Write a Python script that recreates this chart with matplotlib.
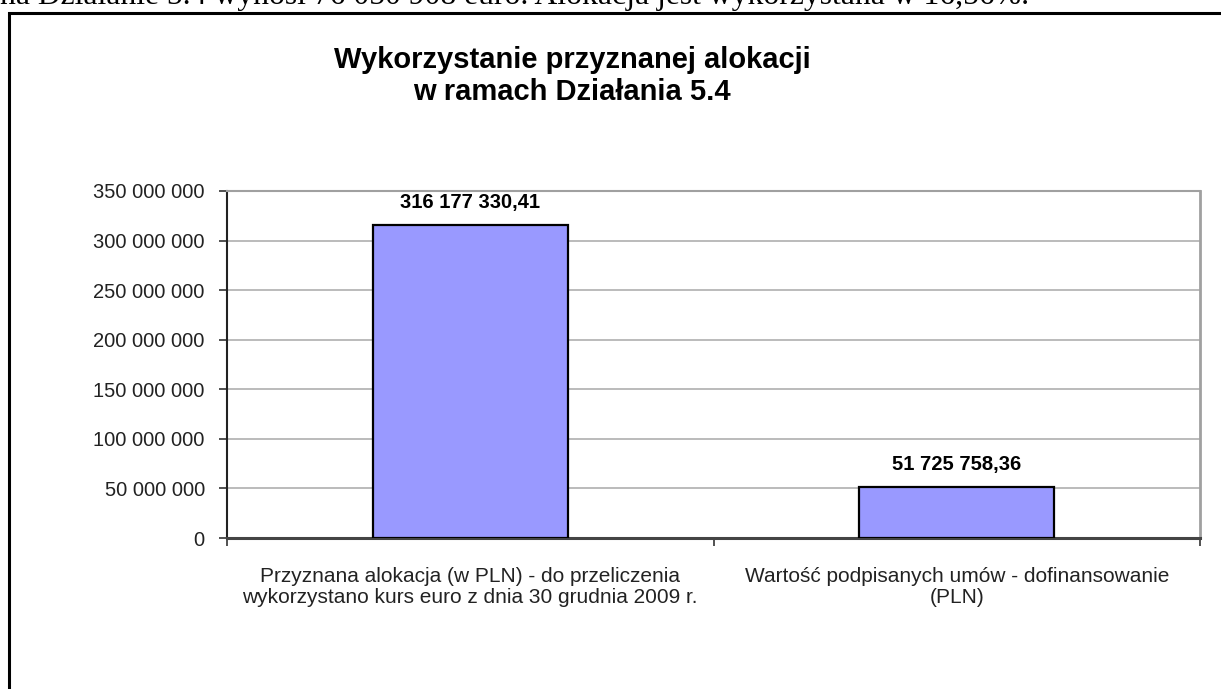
import matplotlib
matplotlib.use("Agg")
import matplotlib.pyplot as plt
from matplotlib.patches import Rectangle
import numpy as np

# data
categories = ["Przyznana alokacja (w PLN) - do przeliczenia\nwykorzystano kurs euro z dnia 30 grudnia 2009 r.",
              "Wartość podpisanych umów - dofinansowanie\n(PLN)"]
values = [316177330.41, 51725758.36]
value_labels = ["316 177 330,41", "51 725 758,36"]
yticks = [0, 50000000, 100000000, 150000000, 200000000, 250000000, 300000000, 350000000]
ytick_labels = ["0", "50 000 000", "100 000 000", "150 000 000", "200 000 000",
                "250 000 000", "300 000 000", "350 000 000"]
title = "Wykorzystanie przyznanej alokacji\nw ramach Działania 5.4"
top_text = "na Działanie 5.4 wynosi 76 050 908 euro. Alokacja jest wykorzystana w 16,56%."

plt.rcParams['font.family'] = ['Liberation Sans', 'DejaVu Sans']

W, H = 1221, 689
fig = plt.figure(figsize=(W / 100, H / 100), dpi=100)
fig.patch.set_facecolor("white")

# document text cut at the top of the image
fig.text(0, 1 - 4 / H, top_text, family=['Liberation Serif', 'DejaVu Serif'],
         fontsize=22.8, va='baseline', ha='left')

# chart frame (runs off the right and bottom edges)
fig.patches.append(Rectangle((9 / W, -0.2), 1.2, 1.2 - 13 / H,
                             transform=fig.transFigure, fill=False,
                             edgecolor='black', linewidth=2.2, clip_on=False))

ax = fig.add_axes([227 / W, (H - 538) / H, (1200 - 227) / W, (538 - 191) / H])
x = np.arange(len(values))
ax.bar(x, values, width=0.4, color='#9999FF', edgecolor='black', linewidth=1.6, zorder=3)
ax.set_xlim(-0.5, 1.5)
ax.set_ylim(0, 350000000)

ax.set_yticks(yticks)
ax.set_yticklabels(ytick_labels, fontsize=14.5, color='#222222')
ax.yaxis.grid(True, color='#a8a8a8', linewidth=1.1, zorder=0)
ax.set_axisbelow(True)

ax.set_xticks([-0.5, 0.5, 1.5])
ax.set_xticklabels([])
ax.tick_params(axis='both', direction='out', length=6, width=1.2, color='#333333')
ax.tick_params(axis='y', pad=10)

for i, c in enumerate(categories):
    ax.text(x[i], -0.085, c, transform=ax.get_xaxis_transform(), ha='center', va='top',
            fontsize=15, color='#222222', linespacing=1.12)

for i, v in enumerate(values):
    ax.annotate(value_labels[i], (x[i], v), xytext=(0, 9), textcoords='offset points',
                ha='center', va='bottom', fontsize=14.5, fontweight='bold')

ax.spines['left'].set_color('#222222')
ax.spines['left'].set_linewidth(1.5)
ax.spines['bottom'].set_color('#444444')
ax.spines['bottom'].set_linewidth(2.2)
ax.spines['top'].set_color('#a0a0a0')
ax.spines['top'].set_linewidth(1.5)
ax.spines['right'].set_color('#a0a0a0')
ax.spines['right'].set_linewidth(2)

fig.text(572 / W, 1 - 46 / H, title, ha='center', va='top', fontsize=21,
         fontweight='bold', linespacing=1.17)

fig.savefig("out.png", dpi=100)
